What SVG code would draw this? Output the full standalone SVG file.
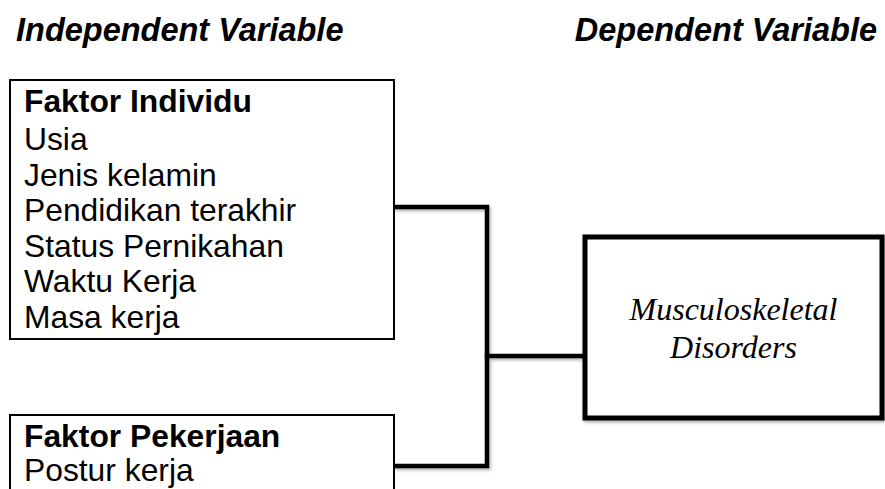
<svg xmlns="http://www.w3.org/2000/svg" width="885" height="489" viewBox="0 0 885 489">
  <defs>
    <filter id="sh" x="-10%" y="-10%" width="130%" height="130%">
      <feDropShadow dx="1.5" dy="2" stdDeviation="1.5" flood-color="#000" flood-opacity="0.3"/>
    </filter>
  </defs>
  <style>
    .title { font-family: "Liberation Sans", Arial, sans-serif; font-weight: bold; font-style: italic; font-size: 32.5px; fill: #000; }
    .box { fill: #fff; stroke: #000; stroke-width: 2; }
    .txt { font-family: "Liberation Sans", Arial, sans-serif; font-size: 31.8px; fill: #000; }
    .hd { font-weight: bold; }
    .dv { fill: #fff; stroke: #000; stroke-width: 5; }
    .dvt { font-family: "Liberation Serif", "Times New Roman", serif; font-style: italic; font-size: 32px; fill: #000; }
    .conn { fill: none; stroke: #000; stroke-width: 4.5; stroke-linecap: square; }
  </style>
  <rect width="885" height="489" fill="#fff"/>

  <g id="titles">
    <text class="title" x="16" y="41">Independent Variable</text>
    <text class="title" x="877" y="41" text-anchor="end">Dependent Variable</text>
  </g>

  <g id="connectors" filter="url(#sh)">
    <path class="conn" d="M396 207 H487 V466 H396"/>
    <path class="conn" d="M487 356 H583"/>
  </g>

  <g id="faktor-individu">
    <rect class="box" x="10" y="80" width="384" height="259"/>
    <text class="txt hd" x="24" y="112">Faktor Individu</text>
    <text class="txt" x="24" y="150">Usia</text>
    <text class="txt" x="24" y="185.5">Jenis kelamin</text>
    <text class="txt" x="24" y="221">Pendidikan terakhir</text>
    <text class="txt" x="24" y="256.5">Status Pernikahan</text>
    <text class="txt" x="24" y="292">Waktu Kerja</text>
    <text class="txt" x="24" y="327.5">Masa kerja</text>
  </g>

  <g id="faktor-pekerjaan">
    <path class="box" d="M10 495 V415 H394 V495"/>
    <text class="txt hd" x="24" y="447">Faktor Pekerjaan</text>
    <text class="txt" x="24" y="481">Postur kerja</text>
  </g>

  <g id="msd">
    <rect class="dv" x="585" y="237" width="297" height="181" filter="url(#sh)"/>
    <text class="dvt" x="733.5" y="320" text-anchor="middle">Musculoskeletal</text>
    <text class="dvt" x="733.5" y="358" text-anchor="middle">Disorders</text>
  </g>
</svg>
